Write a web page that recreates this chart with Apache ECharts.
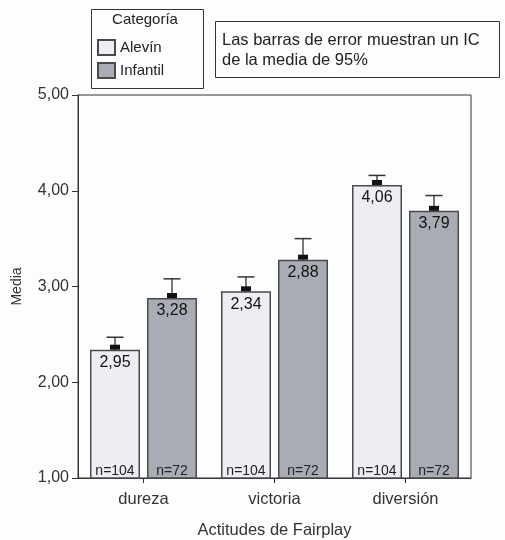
<!DOCTYPE html>
<html><head><meta charset="utf-8">
<script src="https://cdn.jsdelivr.net/npm/echarts@6/dist/echarts.min.js"></script>
<style>html,body{margin:0;padding:0;background:#fcfdfe}#c{width:505px;height:540px}</style>
</head><body><div id="c"></div>
<script>
const categories = ['dureza', 'victoria', 'diversión'];
const seriesNames = ['Alevín', 'Infantil'];
const alevinMean = [2.34, 2.95, 4.06];
const infantilMean = [2.88, 3.28, 3.79];
const alevinUpper = [2.47, 3.10, 4.16];
const infantilUpper = [3.08, 3.50, 3.95];
const alevinLabels = ['2,95', '2,34', '4,06'];
const infantilLabels = ['3,28', '2,88', '3,79'];
const alevinN = ['n=104', 'n=104', 'n=104'];
const infantilN = ['n=72', 'n=72', 'n=72'];
const yTicks = [1, 5, 1]; // min, max, interval

const FONT = 'Liberation Sans, Arial, sans-serif';
const BAR_W = 50, GAP = 7;
const OFF = (BAR_W + GAP) / 2;

function barSeries(name, means, labels, color) {
  return {
    name, type: 'bar', barWidth: BAR_W, barGap: (GAP / BAR_W * 100) + '%',
    data: means,
    itemStyle: { color, borderColor: '#4a4a4a', borderWidth: 1.5 },
    label: {
      show: true, position: 'insideTop', distance: 5,
      formatter: p => labels[p.dataIndex],
      color: '#111', fontFamily: FONT, fontSize: 16
    },
    z: 2
  };
}

function errSeries(means, uppers, nLabels, sign) {
  return {
    type: 'custom', z: 5, silent: true,
    data: categories.map((c, i) => [i, means[i], uppers[i]]),
    renderItem: (params, api) => {
      const i = api.value(0);
      const x = api.coord([i, 1])[0] + sign * OFF;
      const yTop = api.coord([i, api.value(1)])[1];
      const yUp = api.coord([i, api.value(2)])[1];
      const yBase = api.coord([i, yTicks[0]])[1];
      const n = nLabels[params.dataIndex];
      return {
        type: 'group', children: [
          { type: 'line', shape: { x1: x, y1: yTop, x2: x, y2: yUp }, style: { stroke: '#333', lineWidth: 1.3 } },
          { type: 'line', shape: { x1: x - 8.5, y1: yUp, x2: x + 8.5, y2: yUp }, style: { stroke: '#333', lineWidth: 1.5 } },
          { type: 'rect', shape: { x: x - 5, y: yTop - 5, width: 10, height: 5 }, style: { fill: '#111' } },
          { type: 'text', x: x, y: yBase, style: { text: n, fill: '#222', font: '14px ' + FONT, align: 'center', verticalAlign: 'bottom' } }
        ]
      };
    }
  };
}

const chart = echarts.init(document.getElementById('c'), null, { renderer: 'canvas' });
chart.setOption({
  backgroundColor: '#fcfdfe',
  animation: false,
  grid: { left: 78, top: 95, width: 393, bottom: 62, containLabel: false, outerBoundsMode: 'none', show: true, borderColor: '#333', borderWidth: 1, backgroundColor: 'transparent' },
  legend: {
    data: seriesNames, orient: 'vertical', left: 97, top: 39, padding: 0, itemWidth: 17, itemHeight: 15, itemGap: 6,
    icon: 'rect',
    textStyle: { fontFamily: FONT, fontSize: 15, color: '#222', padding: [0, 0, 0, 0] }
  },
  xAxis: {
    type: 'category', data: categories,
    name: 'Actitudes de Fairplay', nameLocation: 'middle', nameGap: 44,
    nameTextStyle: { fontFamily: FONT, fontSize: 16.5, color: '#333' },
    axisLine: { lineStyle: { color: '#333', width: 1 } },
    axisTick: { show: true, alignWithLabel: true, length: 5, lineStyle: { color: '#333' } },
    axisLabel: { fontFamily: FONT, fontSize: 16.5, color: '#333', margin: 13 }
  },
  yAxis: {
    type: 'value', min: yTicks[0], max: yTicks[1], interval: yTicks[2],
    name: 'Media', nameLocation: 'middle', nameGap: 54,
    nameTextStyle: { fontFamily: FONT, fontSize: 14, color: '#333' },
    splitLine: { show: false },
    axisLine: { show: true, lineStyle: { color: '#333', width: 1 } },
    axisTick: { show: true, length: 6, lineStyle: { color: '#333' } },
    axisLabel: { fontFamily: FONT, fontSize: 16, color: '#333', margin: 9, formatter: v => v.toFixed(2).replace('.', ',') }
  },
  graphic: [
    { type: 'rect', left: 89, top: 7, shape: { width: 112, height: 79 }, style: { fill: 'none', stroke: '#333', lineWidth: 1 } },
    { type: 'text', x: 145, y: 20, style: { text: 'Categoría', font: '15px ' + FONT, fill: '#222', align: 'center', verticalAlign: 'middle' } },
    { type: 'rect', left: 213, top: 19, shape: { width: 284, height: 56 }, style: { fill: 'none', stroke: '#333', lineWidth: 1 } },
    { type: 'text', left: 222, top: 30, style: { text: 'Las barras de error muestran un IC\nde la media de 95%', font: '16.5px ' + FONT, fill: '#222', lineHeight: 20 } }
  ],
  series: [
    barSeries(seriesNames[0], alevinMean, alevinLabels, '#eceef4'),
    barSeries(seriesNames[1], infantilMean, infantilLabels, '#a9acb5'),
    errSeries(alevinMean, alevinUpper, alevinN, -1),
    errSeries(infantilMean, infantilUpper, infantilN, 1)
  ]
});
</script></body></html>
